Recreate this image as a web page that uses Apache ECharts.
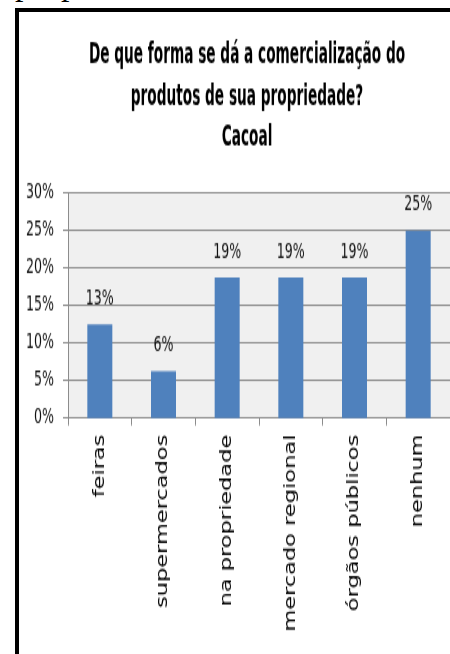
<!DOCTYPE html>
<html>
<head>
<meta charset="utf-8">
<script src="https://cdn.jsdelivr.net/npm/echarts@6/dist/echarts.min.js"></script>
<style>
  html, body { margin: 0; padding: 0; background: #fff; overflow: hidden; }
  #wrap { position: relative; width: 450px; height: 654px; overflow: hidden; }
  /* chart is drawn at 2/3 height and stretched, like the source image */
  #chart { position: absolute; left: 0; top: 0; width: 450px; height: 436px;
           transform: scaleY(1.5); transform-origin: 0 0; }
  #frame { position: absolute; left: 15px; top: 8px; width: 460px; height: 660px;
           border-left: 4px solid #000; border-top: 4px solid #000; pointer-events: none; }
  #above { position: absolute; left: 0; top: 0; width: 450px; height: 8px; overflow: hidden; }
  #above span { position: absolute; top: -33px; font-family: 'Liberation Serif', serif;
                font-size: 34px; line-height: 34px; color: #000; }
</style>
</head>
<body>
<div id="wrap">
  <div id="above"><span style="left:15px">p</span><span style="left:61px">p</span></div>
  <div id="chart"></div>
  <div id="frame"></div>
</div>
<script>
const titleLines = [
  'De que forma se dá a comercialização do',
  'produtos de sua propriedade?',
  'Cacoal'
]
const categories = ['feiras', 'supermercados', 'na propriedade', 'mercado regional', 'órgãos públicos', 'nenhum']
// percentage of answers
const values = [12.5, 6.25, 18.75, 18.75, 18.75, 25]
const yTicks = { min: 0, max: 30, interval: 5 }

const narrow = "'DejaVu Sans Condensed', 'DejaVu Sans', sans-serif"
const gridColor = '#8c8c8c'

const chart = echarts.init(document.getElementById('chart'))

// title lines as graphic texts so they can be squeezed horizontally
const titleGraphics = titleLines.map((line, i) => ({
  type: 'text',
  x: 247,
  y: 36.7 + i * 27.7,
  scaleX: 0.76,
  style: {
    text: line,
    fontFamily: narrow,
    fontWeight: 'bold',
    fontSize: 20,
    fill: '#000',
    textAlign: 'center',
    textVerticalAlign: 'middle'
  }
}))

const option = {
  animation: false,
  graphic: titleGraphics,
  grid: {
    left: 68,
    top: 128.7,
    width: 383,
    height: 150,
    show: true,
    backgroundColor: '#f0f0f0',
    borderWidth: 0
  },
  xAxis: {
    type: 'category',
    data: categories,
    axisLine: { lineStyle: { color: gridColor, width: 1 } },
    axisTick: { show: true, length: 5, lineStyle: { color: gridColor } },
    axisLabel: {
      rotate: 90,
      margin: 11,
      interval: 0,
      fontFamily: "'DejaVu Sans', Verdana, sans-serif",
      fontSize: 15,
      color: '#000'
    }
  },
  yAxis: {
    type: 'value',
    min: yTicks.min,
    max: yTicks.max,
    interval: yTicks.interval,
    axisLine: { show: true, lineStyle: { color: gridColor, width: 1 } },
    axisTick: { show: true, length: 5, lineStyle: { color: gridColor } },
    axisLabel: {
      formatter: '{value}%',
      margin: 14,
      fontFamily: narrow,
      fontSize: 14,
      color: '#111'
    },
    splitLine: { lineStyle: { color: gridColor, width: 1 } }
  },
  series: [{
    type: 'bar',
    data: values,
    barWidth: 25,
    itemStyle: { color: '#4f81bd' },
    label: {
      show: true,
      position: 'top',
      distance: 10,
      formatter: p => Math.round(p.value) + '%',
      fontFamily: narrow,
      fontSize: 14,
      color: '#111'
    }
  }]
}

chart.setOption(option)
</script>
</body>
</html>
